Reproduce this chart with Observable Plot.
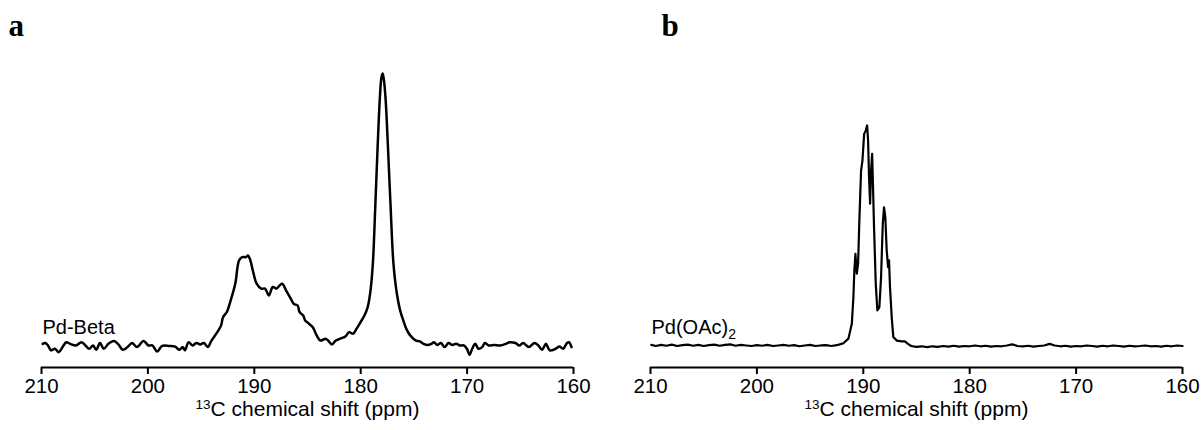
<!DOCTYPE html>
<html>
<head>
<meta charset="utf-8">
<script src="https://cdn.jsdelivr.net/npm/d3@7"></script>
<script src="https://cdn.jsdelivr.net/npm/@observablehq/plot@0.6"></script>
<style>
  html, body { margin: 0; padding: 0; background: #fff; }
  #wrap { display: flex; flex-direction: row; width: 1201px; height: 430px; }
  #wrap svg { display: block; }
</style>
</head>
<body>
<div id="wrap"></div>
<script>
// ---- Data ----
const panelLetters = ["a", "b"];
const sampleNames = ["Pd-Beta", "Pd(OAc)2"];
const xTicks = [210, 200, 190, 180, 170, 160];
const xTitle = "13C chemical shift (ppm)";

// Panel a: Pd-Beta, 13C shift (ppm) and relative intensity
const ppmA = [209.89,209.64,209.39,209.10,208.74,208.38,208.02,207.67,207.31,206.77,206.23,205.87,205.51,205.15,204.86,204.50,204.15,203.71,203.18,202.82,202.35,201.92,201.49,201.02,200.41,199.94,199.58,199.12,198.69,197.97,197.43,197.07,196.71,196.53,196.17,195.81,195.45,195.09,194.73,194.37,194.02,193.48,193.12,192.94,192.58,192.22,191.79,191.43,191.14,190.78,190.60,190.42,190.14,189.78,189.35,188.99,188.63,188.27,187.91,187.62,187.37,187.01,186.65,186.29,185.93,185.75,185.40,185.22,184.86,184.50,184.14,183.78,183.31,183.06,182.70,182.34,181.80,181.44,181.08,180.73,180.37,180.01,179.65,179.35,179.10,178.86,178.64,178.42,178.20,178.05,177.93,177.80,177.65,177.45,177.20,176.92,176.60,176.30,175.98,175.70,175.35,174.80,174.44,174.08,173.72,173.36,173.11,172.82,172.46,172.11,171.75,171.39,171.03,170.67,170.31,170.02,169.77,169.52,169.23,168.94,168.58,168.33,167.97,167.44,166.90,166.36,166.00,165.46,165.10,164.74,164.20,163.66,163.30,162.95,162.59,162.23,161.69,161.33,160.97,160.61,160.43,160.18];
const intA = [0.6,0.9,0,-1.8,-1.2,-2.5,-0.6,1.2,0.6,0,1.2,0,-1.2,0,-1.6,0.9,-1.2,0.6,1.6,0.6,-1.6,-0.6,0.9,-0.6,1.6,0,0,-2.2,-0.2,-0.2,-0.4,-1.6,-0.6,-1.8,1.2,0,0.9,0.4,0.9,-0.6,1.8,4.9,7.4,10.4,12.3,16.6,22.7,31.3,32.5,32.5,33.1,31.9,27.6,22.7,20.9,20.9,18.4,21.5,20.9,22.1,22.7,20.2,17.8,15.3,14.7,12.3,11.0,9.2,8.0,6.7,3.7,1.8,2.5,1.8,0.4,1.8,2.7,3.3,4.9,4.3,6.3,8.6,11.0,14.0,19.5,30,50,72,91,98.5,100,97,90,74,52,30,19,13,9,6,3.7,1.8,1.5,0.6,0.2,0.6,1.2,0.2,0.9,-0.6,0.9,0.2,0.6,0,0,-1.2,-3.4,-1.2,0.6,-1.2,-0.6,0.9,0,0.2,0,0.6,1.2,0.9,0,0.9,-0.6,0.9,0,-1.6,0.6,-1.8,-1.2,-0.4,-1.2,0.9,1.2,-0.6];

// Panel b: Pd(OAc)2
const ppmB = [209.93,209.5,209.0,208.5,208.0,207.5,207.0,206.5,206.0,205.5,205.0,204.5,204.0,203.5,203.0,202.5,202.0,201.5,201.0,200.5,200.0,199.5,199.0,198.5,198.0,197.5,197.0,196.5,196.0,195.5,195.0,194.5,194.0,193.5,193.0,192.5,192.05,191.87,191.40,191.08,190.93,190.84,190.74,190.61,190.49,190.37,190.21,190.08,189.92,189.77,189.64,189.55,189.46,189.36,189.27,189.17,189.11,188.99,188.83,188.68,188.49,188.33,188.17,188.05,187.93,187.80,187.67,187.58,187.49,187.33,187.18,186.86,186.39,186.10,185.80,185.5,185.0,184.5,184.0,183.5,183.0,182.5,182.0,181.5,181.0,180.5,180.0,179.5,179.0,178.5,178.0,177.5,177.0,176.5,176.0,175.5,175.0,174.5,174.0,173.5,173.0,172.5,172.0,171.5,171.0,170.5,170.0,169.5,169.0,168.5,168.0,167.5,167.0,166.5,166.0,165.5,165.0,164.5,164.0,163.5,163.0,162.5,162.0,161.5,161.0,160.5,160.0];
const intB = [0.2,-0.2,0.2,-0.1,0.3,-0.2,0.1,0.3,-0.1,0.2,-0.2,0.1,0.3,-0.1,0.2,0.4,-0.1,0.2,0.0,-0.2,0.1,-0.1,0.2,-0.2,0.0,0.2,-0.1,0.1,-0.3,0.0,0.2,-0.2,0.0,0.1,-0.2,0.1,0.6,0.8,2.5,8.0,17.8,27.6,33.7,26.4,30.0,46.0,64.3,68.0,77.8,79.0,80.9,75.4,61.9,52.1,64.3,70.5,61.9,43.5,22.7,12.9,14.1,25.1,44.7,50.8,47.2,34.9,28.8,31.3,21.4,10.4,3.1,1.8,1.5,1.5,0.6,-0.2,-0.5,-0.3,-0.6,-0.3,-0.5,-0.2,-0.4,-0.1,-0.4,-0.2,-0.3,0.0,-0.3,-0.1,-0.4,-0.2,-0.3,0.0,0.4,-0.2,-0.3,-0.1,-0.4,-0.2,0.0,0.6,0.0,-0.3,-0.1,-0.4,-0.2,-0.3,0.0,-0.2,-0.4,-0.1,-0.3,0.0,-0.2,-0.4,-0.1,-0.3,-0.2,0.0,-0.3,-0.2,-0.4,-0.1,-0.3,0.0,-0.2];

// ---- Build tables ----
const tableA = ppmA.map((p, i) => ({ppm: p, intensity: intA[i]}));
const tableB = ppmB.map((p, i) => ({ppm: p, intensity: intB[i]}));

const xDomain = [xTicks[0], xTicks[xTicks.length - 1]];
const yDomain = [-8.1, 100];
const sans = "'Liberation Sans', Arial, Helvetica, sans-serif";
const serif = "'Liberation Serif', 'Times New Roman', serif";

function panel({data, letter, name, width, marginLeft, marginRight, letterDx, curve, strokeWidth}) {
  return Plot.plot({
    width, height: 430,
    marginLeft, marginRight, marginTop: 73, marginBottom: 63,
    style: {fontFamily: sans, fontSize: "20px", color: "#000", background: "#fff"},
    x: {domain: xDomain},
    y: {domain: yDomain, axis: null},
    marks: [
      Plot.ruleY([yDomain[0]], {stroke: "#000", strokeWidth: 2}),
      Plot.axisX({
        ticks: xTicks, tickSize: 7, tickPadding: 4, fontSize: 20.5,
        strokeWidth: 2, stroke: "#000",
        label: xTitle, labelAnchor: "center", labelOffset: 48, labelArrow: "none"
      }),
      Plot.line(data, {x: "ppm", y: "intensity", stroke: "#000", strokeWidth, curve}),
      Plot.text([name], {x: xDomain[0], y: 4.4, text: d => d, textAnchor: "start", lineAnchor: "bottom", fontSize: 20, dx: 1, fill: "#000"}),
      Plot.text([letter], {frameAnchor: "top-left", text: d => d, textAnchor: "start", lineAnchor: "bottom", dx: letterDx, dy: -38, fontSize: 31, fontWeight: "bold", fontFamily: serif, fill: "#000"})
    ]
  });
}

// Turn plain strings into super/subscript rich text
function enrich(svg) {
  const NS = "http://www.w3.org/2000/svg";
  svg.querySelectorAll("text").forEach(t => {
    const s = t.textContent;
    if (s === xTitle) {
      t.textContent = "";
      t.setAttribute("font-size", "21");
      const a = document.createElementNS(NS, "tspan");
      a.setAttribute("font-size", "13.5");
      a.setAttribute("dy", "-7");
      a.textContent = s.slice(0, 2);
      const b = document.createElementNS(NS, "tspan");
      b.setAttribute("dy", "7");
      b.textContent = s.slice(2);
      t.appendChild(a); t.appendChild(b);
    } else if (s === sampleNames[1]) {
      t.textContent = "";
      const a = document.createElementNS(NS, "tspan");
      a.textContent = s.slice(0, -1);
      const b = document.createElementNS(NS, "tspan");
      b.setAttribute("font-size", "14");
      b.setAttribute("dy", "5");
      b.textContent = s.slice(-1);
      t.appendChild(a); t.appendChild(b);
    }
  });
  return svg;
}

const wrap = document.getElementById("wrap");
wrap.appendChild(enrich(panel({data: tableA, letter: panelLetters[0], name: sampleNames[0], width: 600, marginLeft: 41, marginRight: 27, letterDx: -33, curve: "catmull-rom", strokeWidth: 2.5})));
wrap.appendChild(enrich(panel({data: tableB, letter: panelLetters[1], name: sampleNames[1], width: 601, marginLeft: 50, marginRight: 19, letterDx: 11, curve: "linear", strokeWidth: 2.2})));
</script>
</body>
</html>
